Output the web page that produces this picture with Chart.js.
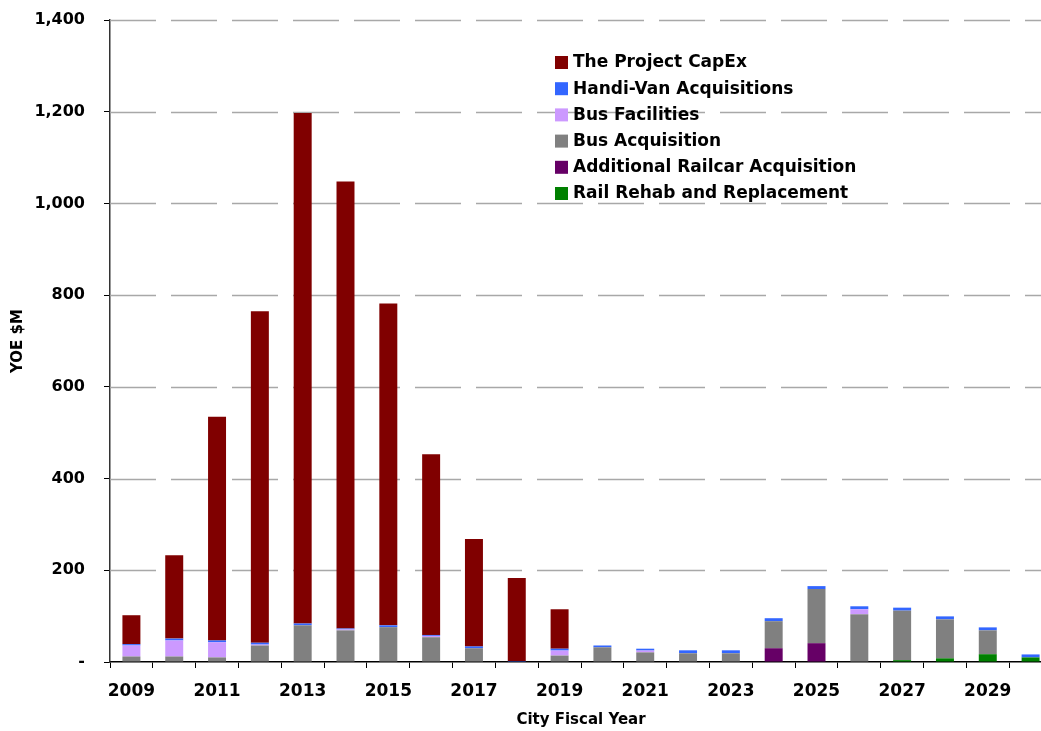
<!DOCTYPE html>
<html>
<head>
<meta charset="utf-8">
<script src="https://cdn.jsdelivr.net/npm/chart.js@4"></script>
<style>
  html, body { margin: 0; padding: 0; background: #fff; overflow: hidden; }
  #wrap { position: absolute; left: 0; top: 0; width: 1052px; height: 731px; }
</style>
</head>
<body>
<div id="wrap"><canvas id="capexChart"></canvas></div>
<script>
// Data (YOE $M)
const years = ['2009','2010','2011','2012','2013','2014','2015','2016','2017','2018','2019',
               '2020','2021','2022','2023','2024','2025','2026','2027','2028','2029','2030'];

const railRehab    = [0,0,0,0,0,0,0,0,0,0,0, 0,0,0,0,0,0,0,4,8,17,10];
const addlRailcar  = [0,0,0,0,0,0,0,0,0,0,0, 0,0,0,0,30,41,0,0,0,0,0];
const busAcq       = [12,12,10,36,80,69,76,54,30,0,14, 32,21,19,19,59,118,104,108,85,52,0];
const busFacil     = [24,35,33,2,0,2,0,3,0,0,11, 0,4,0,0,0,0,11,0,0,0,0];
const handiVan     = [3,4,4,4,4,2,4,2,4,2,4, 4,4,6.5,6.5,6.5,6.5,6.5,6.5,6.5,6.5,6.5];
const projectCapex = [63,182,488,723,1113,975,702,394,234,181,86, 0,0,0,0,0,0,0,0,0,0,0];

const yTicks = [0, 200, 400, 600, 800, 1000, 1200, 1400];

const FONT = 'DejaVu Sans';

// dashed horizontal gridlines, drawn under the bars
const dashGrid = {
    id: 'dashGrid',
    beforeDatasetsDraw(chart) {
        const ctx = chart.ctx;
        const area = chart.chartArea;
        const y = chart.scales.y;
        ctx.save();
        ctx.strokeStyle = '#a8a8a8';
        ctx.lineWidth = 1.5;
        ctx.setLineDash([46, 15]);
        yTicks.forEach(v => {
            if (v === 0) return;
            const py = Math.round(y.getPixelForValue(v)) + 0.5;
            ctx.beginPath();
            ctx.moveTo(area.left, py);
            ctx.lineTo(area.right, py);
            ctx.stroke();
        });
        ctx.restore();
    }
};

// legend drawn inside the plot, top right
const boxLegend = {
    id: 'boxLegend',
    afterDraw(chart) {
        const ctx = chart.ctx;
        const sets = chart.data.datasets.slice().reverse();
        ctx.save();
        ctx.font = 'bold 17px "' + FONT + '"';
        ctx.textBaseline = 'middle';
        sets.forEach((ds, i) => {
            const y = 62 + i * 26.2;
            ctx.fillStyle = ds.backgroundColor;
            ctx.fillRect(555, y - 6, 13, 13);
            ctx.fillStyle = '#000';
            ctx.fillText(ds.label, 573, y + 1);
        });
        ctx.restore();
    }
};

const ctx = document.getElementById('capexChart').getContext('2d');
const capexChart = new Chart(ctx, {
    type: 'bar',
    data: {
        labels: years,
        datasets: [
            { label: 'Rail Rehab and Replacement', data: railRehab, backgroundColor: '#008000' },
            { label: 'Additional Railcar Acquisition', data: addlRailcar, backgroundColor: '#660066' },
            { label: 'Bus Acquisition', data: busAcq, backgroundColor: '#808080' },
            { label: 'Bus Facilities', data: busFacil, backgroundColor: '#cc99ff' },
            { label: 'Handi-Van Acquisitions', data: handiVan, backgroundColor: '#3366ff' },
            { label: 'The Project CapEx', data: projectCapex, backgroundColor: '#800000' }
        ]
    },
    options: {
        responsive: true,
        maintainAspectRatio: false,
        animation: false,
        datasets: { bar: { categoryPercentage: 1, barPercentage: 0.42 } },
        layout: { padding: { top: 20, right: 0, bottom: 0, left: 0 } },
        plugins: {
            legend: { display: false },
            tooltip: { enabled: false }
        },
        scales: {
            x: {
                stacked: true,
                afterFit: s => { s.height = 69; s.paddingLeft = 0; s.paddingRight = 0; },
                grid: { drawOnChartArea: false, drawTicks: true, tickLength: 6, tickColor: '#000', offset: true },
                border: { display: true, color: '#000', width: 1.5 },
                ticks: {
                    autoSkip: false, maxRotation: 0, padding: 13,
                    color: '#000',
                    font: { family: FONT, size: 17, weight: 'bold' },
                    callback: function(val, i) { return i % 2 === 0 ? this.getLabelForValue(val) : ''; }
                },
                title: {
                    display: true, text: 'City Fiscal Year', color: '#000',
                    font: { family: FONT, size: 15, weight: 'bold' },
                    padding: { top: 0, bottom: 2 }
                }
            },
            y: {
                stacked: true,
                min: 0, max: 1400,
                afterFit: s => { s.width = 110; s.paddingTop = 0; s.paddingBottom = 0; },
                afterBuildTicks: s => { s.ticks = yTicks.map(v => ({ value: v })); },
                grid: {
                    drawOnChartArea: false,
                    drawTicks: true, tickLength: 6, tickColor: '#000'
                },
                border: { display: true, color: '#333', width: 1.5 },
                ticks: {
                    padding: 19, color: '#000',
                    font: { family: FONT, size: 16, weight: 'bold' },
                    callback: v => v === 0 ? '-' : v.toLocaleString('en-US')
                },
                title: {
                    display: true, text: 'YOE $M', color: '#000',
                    font: { family: FONT, size: 15, weight: 'bold' },
                    padding: { top: 9, bottom: 0 }
                }
            }
        }
    },
    plugins: [dashGrid, boxLegend]
});
</script>
</body>
</html>
